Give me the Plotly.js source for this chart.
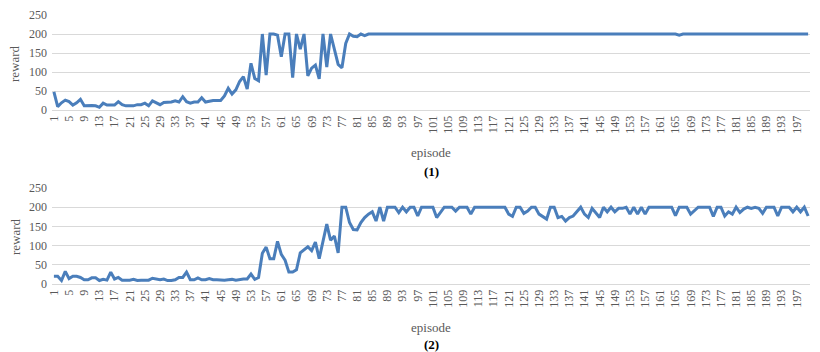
<!DOCTYPE html>
<html>
<head>
<meta charset="utf-8">
<script src="https://cdn.plot.ly/plotly-3.0.1.min.js"></script>
<style>html,body{margin:0;padding:0;background:#fff;}#chart{width:820px;height:352px;}</style>
</head>
<body>
<div id="chart"></div>
<script>
// Episode numbers (categories)
const episodes = Array.from({length: 200}, (_, i) => i + 1);

// Tick labels shown on x axis
const tickLabels = [1,5,9,13,17,21,25,29,33,37,41,45,49,53,57,61,65,69,73,77,81,85,89,93,97,
  101,105,109,113,117,121,125,129,133,137,141,145,149,153,157,161,165,169,173,177,181,185,189,193,197];

// Chart (1) reward per episode
const reward1 = [
  48, 9, 19, 26, 22, 13, 19, 28, 11, 12,
  12, 11, 7, 18, 13, 13, 13, 22, 14, 11,
  11, 11, 14, 14, 18, 11, 24, 18, 14, 20,
  20, 21, 24, 21, 35, 22, 18, 21, 21, 32,
  21, 24, 25, 25, 25, 37, 57, 42, 53, 75,
  88, 55, 123, 83, 77, 200, 92, 200, 200, 197,
  140, 200, 200, 85, 200, 160, 200, 90, 110, 118,
  82, 200, 113, 200, 163, 120, 111, 175, 200, 194,
  193, 200, 196, 200, 200, 200, 200, 200, 200, 200,
  200, 200, 200, 200, 200, 200, 200, 200, 200, 200,
  200, 200, 200, 200, 200, 200, 200, 200, 200, 200,
  200, 200, 200, 200, 200, 200, 200, 200, 200, 200,
  200, 200, 200, 200, 200, 200, 200, 200, 200, 200,
  200, 200, 200, 200, 200, 200, 200, 200, 200, 200,
  200, 200, 200, 200, 200, 200, 200, 200, 200, 200,
  200, 200, 200, 200, 200, 200, 200, 200, 200, 200,
  200, 200, 200, 200, 200, 197, 200, 200, 200, 200,
  200, 200, 200, 200, 200, 200, 200, 200, 200, 200,
  200, 200, 200, 200, 200, 200, 200, 200, 200, 200,
  200, 200, 200, 200, 200, 200, 200, 200, 200, 200
];

// Chart (2) reward per episode
const reward2 = [
  20, 20, 9, 33, 14, 20, 20, 17, 11, 11,
  16, 16, 9, 12, 10, 31, 13, 17, 10, 10,
  10, 12, 9, 10, 10, 10, 15, 12, 11, 13,
  9, 9, 11, 17, 17, 31, 11, 11, 16, 11,
  11, 14, 11, 11, 10, 10, 11, 12, 10, 12,
  13, 13, 26, 12, 17, 80, 96, 66, 66, 111,
  77, 62, 31, 31, 37, 81, 90, 97, 87, 109,
  66, 108, 156, 114, 125, 81, 200, 200, 160, 142,
  141, 160, 173, 182, 188, 164, 200, 164, 200, 200,
  200, 186, 200, 188, 200, 200, 177, 200, 200, 200,
  200, 173, 188, 200, 200, 200, 190, 200, 200, 200,
  182, 200, 200, 200, 200, 200, 200, 200, 200, 200,
  182, 176, 200, 200, 184, 190, 200, 200, 182, 176,
  169, 200, 200, 173, 176, 164, 173, 177, 188, 200,
  182, 173, 197, 186, 173, 200, 188, 200, 188, 197,
  197, 200, 182, 200, 182, 200, 182, 200, 200, 200,
  200, 200, 200, 200, 178, 200, 200, 200, 182, 190,
  200, 200, 200, 200, 176, 200, 200, 177, 188, 182,
  200, 186, 195, 200, 197, 200, 197, 184, 200, 200,
  200, 177, 200, 200, 200, 188, 200, 188, 200, 177
];

const W = 820, H = 352;
const px = v => v / W;
const py = v => 1 - v / H;

const lineStyle = {color: '#4A7EBB', width: 3};
const tickFont = {family: 'Liberation Serif', size: 12, color: '#595959'};
const titleFont = {family: 'Liberation Serif', size: 13, color: '#595959'};

const traces = [
  {x: episodes, y: reward1, type: 'scatter', mode: 'lines', line: lineStyle, xaxis: 'x', yaxis: 'y', hoverinfo: 'x+y'},
  {x: episodes, y: reward2, type: 'scatter', mode: 'lines', line: lineStyle, xaxis: 'x2', yaxis: 'y2', hoverinfo: 'x+y'}
];

function xAxis(anchor) {
  return {
    domain: [px(52), px(810)],
    anchor: anchor,
    range: [0.5, 200.5],
    tickmode: 'array',
    tickvals: tickLabels,
    ticktext: tickLabels.map(String),
    tickangle: -90,
    tickfont: tickFont,
    showgrid: false,
    zeroline: false,
    showline: true,
    linecolor: '#D9D9D9',
    linewidth: 1,
    ticks: '',
    fixedrange: true
  };
}
function yAxis(anchor, top, bottom) {
  return {
    domain: [py(bottom), py(top)],
    anchor: anchor,
    range: [0, 250],
    tickvals: [0, 50, 100, 150, 200, 250],
    tickfont: tickFont,
    showgrid: true,
    gridcolor: '#D9D9D9',
    gridwidth: 1,
    zeroline: false,
    showline: false,
    ticks: '',
    ticklabelstandoff: 4,
    fixedrange: true
  };
}

const layout = {
  width: W, height: H,
  margin: {l: 0, r: 0, t: 0, b: 0, pad: 0},
  paper_bgcolor: '#ffffff',
  plot_bgcolor: '#ffffff',
  showlegend: false,
  xaxis: xAxis('y'),
  yaxis: yAxis('x', 15, 110),
  xaxis2: xAxis('y2'),
  yaxis2: yAxis('x2', 188, 284),
  annotations: [
    {text: 'reward', xref: 'paper', yref: 'paper', x: px(15), y: py(63), textangle: -90, showarrow: false, font: titleFont, xanchor: 'center', yanchor: 'middle'},
    {text: 'reward', xref: 'paper', yref: 'paper', x: px(15), y: py(236), textangle: -90, showarrow: false, font: titleFont, xanchor: 'center', yanchor: 'middle'},
    {text: 'episode', xref: 'paper', yref: 'paper', x: px(431), y: py(153), showarrow: false, font: titleFont, xanchor: 'center', yanchor: 'middle'},
    {text: '<b>(1)</b>', xref: 'paper', yref: 'paper', x: px(431), y: py(171), showarrow: false, font: {family: 'Liberation Serif', size: 13, color: '#000000'}, xanchor: 'center', yanchor: 'middle'},
    {text: 'episode', xref: 'paper', yref: 'paper', x: px(431), y: py(327), showarrow: false, font: titleFont, xanchor: 'center', yanchor: 'middle'},
    {text: '<b>(2)</b>', xref: 'paper', yref: 'paper', x: px(431), y: py(344), showarrow: false, font: {family: 'Liberation Serif', size: 13, color: '#000000'}, xanchor: 'center', yanchor: 'middle'}
  ]
};

Plotly.newPlot('chart', traces, layout, {displayModeBar: false, staticPlot: true});
</script>
</body>
</html>
